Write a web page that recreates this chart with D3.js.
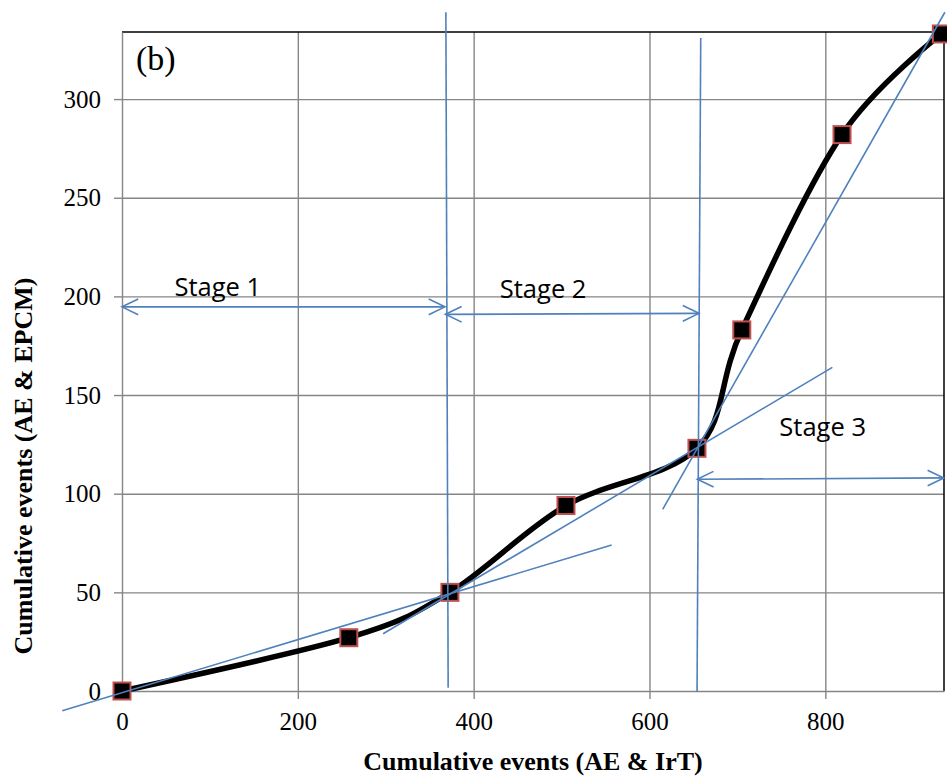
<!DOCTYPE html>
<html>
<head>
<meta charset="utf-8">
<script src="https://cdn.jsdelivr.net/npm/d3@7"></script>
<style>
  body { margin: 0; background: #fff; }
  .tick text { font-family: "Liberation Serif", "Times New Roman", serif; font-size: 25px; fill: #000; }
</style>
</head>
<body>
<div id="chart"></div>
<script>
// data
var xVals = [0, 258, 373, 505, 654, 705, 819, 932];
var yVals = [0, 27, 50, 94, 123, 183, 282, 333];
var xTicks = [0, 200, 400, 600, 800];
var yTicks = [0, 50, 100, 150, 200, 250, 300];

// tangent lines (data units)
var tangents = [
  [[-68, -10], [557, 74]],
  [[297, 29], [808, 164]],
  [[615, 92], [936, 344]]
];
// stage boundaries
var boundaries = [
  [[368.4, 344], [371, 1.7]],
  [[658.3, 331], [654.1, -0.5]]
];
// stage arrows
var arrows = [
  [[0, 194.7], [367.3, 194.7]],
  [[367.9, 190.9], [656.3, 191.4]],
  [[654.4, 107.3], [934.8, 108]]
];
var stageNames = ["Stage 1", "Stage 2", "Stage 3"];
var stageAt = [[109, 200], [479, 199], [797, 129]];

var margin = {top: 32, right: 3, bottom: 89, left: 122},
    width = 947 - margin.left - margin.right,
    height = 780 - margin.top - margin.bottom;

var svg = d3.select("#chart")
    .append("svg")
    .attr("width", 947)
    .attr("height", 780)
    .append("g")
    .attr("transform", "translate(" + margin.left + "," + margin.top + ")");

var x = d3.scaleLinear().domain([0, 935]).range([0, width]);
var y = d3.scaleLinear().domain([0, 334]).range([height, 0]);

var grey = "#868686", blue = "#4f81bd";

// grid
svg.append("g")
    .attr("transform", "translate(0," + height + ")")
    .call(d3.axisBottom(x).tickValues(xTicks.slice(1)).tickSize(-height).tickFormat(""))
    .call(g => g.select(".domain").remove())
    .selectAll("line").attr("stroke", grey).attr("stroke-width", 1.4);
svg.append("g")
    .call(d3.axisLeft(y).tickValues(yTicks.slice(1)).tickSize(-width).tickFormat(""))
    .call(g => g.select(".domain").remove())
    .selectAll("line").attr("stroke", grey).attr("stroke-width", 1.4);

// top / right frame
svg.append("path")
    .attr("d", "M0,0H" + width + "V" + height)
    .attr("fill", "none").attr("stroke", "#000").attr("stroke-width", 1.5);

// axes
var xAxis = svg.append("g")
    .attr("transform", "translate(0," + height + ")")
    .call(d3.axisBottom(x).tickValues(xTicks).tickSize(8).tickPadding(13).tickSizeOuter(0));
var yAxis = svg.append("g")
    .call(d3.axisLeft(y).tickValues(yTicks).tickSize(8).tickPadding(13).tickSizeOuter(0));
[xAxis, yAxis].forEach(function(a) {
  a.select(".domain").attr("stroke", grey).attr("stroke-width", 1.4);
  a.selectAll(".tick line").attr("stroke", grey).attr("stroke-width", 1.4);
});

// the curve
var pts = xVals.map(function(d, i) { return [d, yVals[i]]; });
var line = d3.line()
    .x(function(d) { return x(d[0]); })
    .y(function(d) { return y(d[1]); })
    .curve(d3.curveCardinal.tension(0));
svg.append("path")
    .datum(pts)
    .attr("d", line)
    .attr("fill", "none")
    .attr("stroke", "#000")
    .attr("stroke-width", 5.5);

// markers
svg.selectAll("rect.mk")
    .data(pts)
    .enter()
    .append("rect")
    .attr("class", "mk")
    .attr("x", function(d) { return x(d[0]) - 8.5; })
    .attr("y", function(d) { return y(d[1]) - 8.5; })
    .attr("width", 17)
    .attr("height", 17)
    .attr("fill", "#000")
    .attr("stroke", "#c0504d")
    .attr("stroke-width", 2);

// blue annotation lines
var straight = d3.line()
    .x(function(d) { return x(d[0]); })
    .y(function(d) { return y(d[1]); });
svg.selectAll("path.tan")
    .data(tangents.concat(boundaries, arrows))
    .enter()
    .append("path")
    .attr("class", "tan")
    .attr("d", straight)
    .attr("fill", "none")
    .attr("stroke", blue)
    .attr("stroke-width", 1.6);

// open arrow heads on both ends
function head(tip, from) {
  var tx = x(tip[0]), ty = y(tip[1]);
  var a = Math.atan2(y(from[1]) - ty, x(from[0]) - tx);
  var len = 18, spread = 0.45;
  return "M" + (tx + len * Math.cos(a - spread)) + "," + (ty + len * Math.sin(a - spread)) +
         "L" + tx + "," + ty +
         "L" + (tx + len * Math.cos(a + spread)) + "," + (ty + len * Math.sin(a + spread));
}
arrows.forEach(function(ar) {
  svg.append("path").attr("d", head(ar[0], ar[1]))
      .attr("fill", "none").attr("stroke", blue).attr("stroke-width", 1.6);
  svg.append("path").attr("d", head(ar[1], ar[0]))
      .attr("fill", "none").attr("stroke", blue).attr("stroke-width", 1.6);
});

// stage labels
svg.selectAll("text.stage")
    .data(stageNames)
    .enter()
    .append("text")
    .attr("class", "stage")
    .attr("x", function(d, i) { return x(stageAt[i][0]); })
    .attr("y", function(d, i) { return y(stageAt[i][1]); })
    .attr("text-anchor", "middle")
    .style("font-family", "'Open Sans', sans-serif")
    .style("font-size", "25.5px")
    .text(function(d) { return d; });

// panel letter
svg.append("text")
    .attr("x", 14)
    .attr("y", 38)
    .style("font-family", "'Liberation Serif', serif")
    .style("font-size", "34px")
    .text("(b)");

// axis titles
svg.append("text")
    .attr("x", 533 - margin.left)
    .attr("y", 770 - margin.top)
    .attr("text-anchor", "middle")
    .style("font-family", "'Liberation Serif', serif")
    .style("font-weight", "bold")
    .style("font-size", "26px")
    .text("Cumulative events (AE & IrT)");
svg.append("text")
    .attr("transform", "translate(" + (32 - margin.left) + "," + (466 - margin.top) + ") rotate(-90)")
    .attr("text-anchor", "middle")
    .style("font-family", "'Liberation Serif', serif")
    .style("font-weight", "bold")
    .style("font-size", "26px")
    .text("Cumulative events (AE & EPCM)");
</script>
</body>
</html>
